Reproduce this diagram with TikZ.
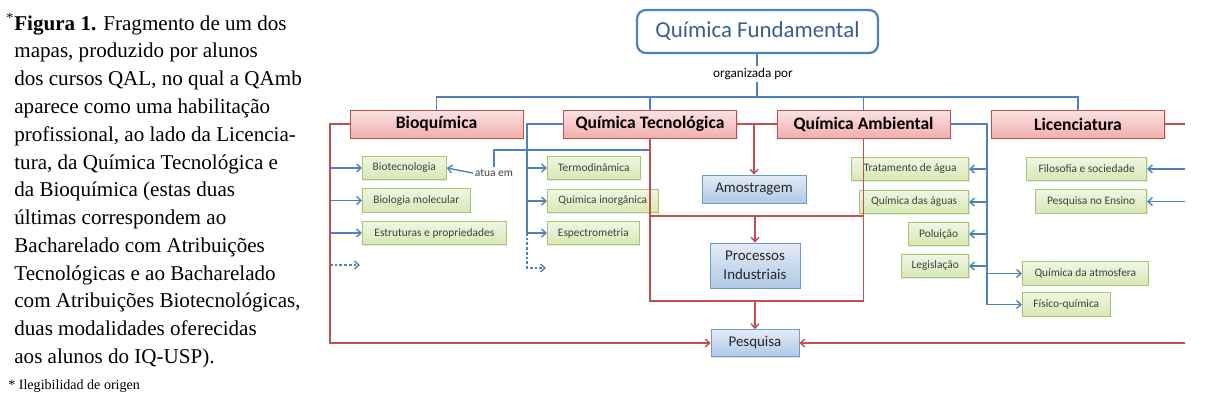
\documentclass[tikz,border=0pt]{standalone}
\usepackage{fontspec}
\setmainfont{Liberation Serif}
\newfontfamily\mapfont{Carlito}
\usetikzlibrary{arrows.meta,shadows}
\definecolor{lineblue}{HTML}{4F81BD}
\definecolor{linered}{HTML}{C0504D}
\definecolor{titleblue}{HTML}{376092}
\definecolor{redtop}{HTML}{FBE3E3}
\definecolor{redbot}{HTML}{F2AEAD}
\definecolor{greentop}{HTML}{F0F6E4}
\definecolor{greenbot}{HTML}{D7E8B4}
\definecolor{greenedge}{HTML}{A9C66A}
\definecolor{bluetop}{HTML}{E3ECF7}
\definecolor{bluebot}{HTML}{AFC8E6}
\begin{document}
\begin{tikzpicture}[x=0.02cm,y=-0.02cm,
    redbox/.style={draw=linered, top color=redtop, bottom color=redbot,
      minimum width=3.46cm, minimum height=0.56cm, inner sep=0pt,
      drop shadow={shadow xshift=0.8pt,shadow yshift=-0.8pt,opacity=0.25},
      font=\mapfont\bfseries\fontsize{10}{12}\selectfont},
    bluebox/.style={draw=lineblue!80, top color=bluetop, bottom color=bluebot,
      inner sep=0pt, align=center, text=black!85,
      drop shadow={shadow xshift=0.8pt,shadow yshift=-0.8pt,opacity=0.25},
      font=\mapfont\fontsize{8.5}{11}\selectfont},
    greenbox/.style={draw=greenedge, top color=greentop, bottom color=greenbot,
      minimum height=0.47cm, inner sep=0pt, text=black!75,
      drop shadow={shadow xshift=0.6pt,shadow yshift=-0.6pt,opacity=0.2},
      font=\mapfont\fontsize{6.5}{8}\selectfont},
    blueline/.style={draw=lineblue, line width=0.8pt},
    redline/.style={draw=linered, line width=0.8pt},
    tip/.style={-{Straight Barb[length=2.5pt,width=4.5pt]}},
    dots/.style={dash pattern=on 1.5pt off 1.2pt}]
    \useasboundingbox (0,0) rectangle (1206,406);
    \node[anchor=north west, align=left, inner sep=0pt,
        font=\fontsize{12}{15.8}\selectfont] (caption) at (14,13)
        {\llap{\textsuperscript{*}}\textbf{Figura 1.} Fragmento de um dos\\
         mapas, produzido por alunos\\
         dos cursos QAL, no qual a QAmb\\
         aparece como uma habilitação\\
         profissional, ao lado da Licencia-\\
         tura, da Química Tecnológica e\\
         da Bioquímica (estas duas\\
         últimas correspondem ao\\
         Bacharelado com Atribuições\\
         Tecnológicas e ao Bacharelado\\
         com Atribuições Biotecnológicas,\\
         duas modalidades oferecidas\\
         aos alunos do IQ-USP).};
    \node[anchor=base west, inner sep=0pt, font=\fontsize{8}{9}\selectfont]
        (footnote) at (8,389) {* Ilegibilidad de origen};

    \node[draw=lineblue, line width=1.3pt, rounded corners=5pt, fill=white,
        minimum width=4.82cm, minimum height=0.86cm, text=titleblue,
        font=\mapfont\fontsize{13}{15}\selectfont] (qf) at (757.5,31.5) {Química Fundamental};
    \node[inner sep=1pt, font=\mapfont\fontsize{7.5}{9}\selectfont] (org) at (753,74) {organizada por};
    \coordinate (bar) at (757,97);

    \node[redbox] (bio) at (436.5,124) {Bioquímica};
    \node[redbox] (qt) at (650,124) {Química Tecnológica};
    \node[redbox] (qa) at (863.5,124) {Química Ambiental};
    \node[redbox] (lic) at (1078,124) {Licenciatura};

    \node[bluebox, minimum width=2.08cm, minimum height=0.56cm] (amo) at (754,189) {Amostragem};
    \node[bluebox, minimum width=1.8cm, minimum height=0.9cm] (proc) at (755,265.5) {Processos\\Industriais};
    \node[bluebox, minimum width=1.76cm, minimum height=0.54cm] (pesq) at (755,343) {Pesquisa};

    \node[greenbox, anchor=west, minimum width=1.68cm] (biotec) at (362,168) {Biotecnologia};
    \node[greenbox, anchor=west, minimum width=2.16cm] (biomol) at (362,200.5) {Biologia molecular};
    \node[greenbox, anchor=west, minimum width=2.88cm] (estr) at (362,233) {Estruturas e propriedades};
    \node[greenbox, anchor=west, minimum width=1.86cm] (termo) at (547,168) {Termodinâmica};
    \node[greenbox, anchor=west, minimum width=2.22cm] (inorg) at (547,201) {Química inorgânica};
    \node[greenbox, anchor=west, minimum width=1.84cm] (espec) at (547,233) {Espectrometria};
    \node[greenbox, anchor=east, minimum width=2.34cm] (trat) at (969,169) {Tratamento de água};
    \node[greenbox, anchor=east, minimum width=2.18cm] (aguas) at (969,202) {Química das águas};
    \node[greenbox, anchor=east, minimum width=1.2cm] (polu) at (969,234) {Poluição};
    \node[greenbox, anchor=east, minimum width=1.34cm] (legis) at (969,266) {Legislação};
    \node[greenbox, anchor=west, minimum width=2.52cm] (atmos) at (1022,273.5) {Química da atmosfera};
    \node[greenbox, anchor=west, minimum width=1.76cm] (fisico) at (1022,304.5) {Físico-química};
    \node[greenbox, anchor=east, minimum width=2.4cm] (filo) at (1147,169) {Filosofia e sociedade};
    \node[greenbox, anchor=east, minimum width=2.22cm] (ensino) at (1147,201.5) {Pesquisa no Ensino};
    \node[inner sep=1pt, font=\mapfont\fontsize{6.5}{8}\selectfont, text=black!75] (atua) at (494,173) {atua em};

    \draw[blueline] (qf.south -| bar) -- (org.north -| bar);
    \draw[blueline] (org.south -| bar) -- (bar);
    \draw[blueline] (bio.north) |- (lic.north |- bar) -- (lic.north);
    \draw[blueline] (qt.north) -- (qt.north |- bar);
    \draw[blueline] (qa.north) -- (qa.north |- bar);

    \coordinate (bspine) at (330,124);
    \coordinate (bdash) at (360,265);
    \foreach \n in {biotec,biomol,estr}
        \draw[blueline,tip] (bspine |- \n.west) -- (\n.west);
    \draw[blueline,dots,tip] (bspine |- bdash) -- (bdash);

    \coordinate (tspine) at (527,124);
    \coordinate (tdash) at (546,268);
    \draw[blueline] (qt.west) -- (tspine) -- (tspine |- espec.west);
    \draw[blueline,dots,tip] (tspine |- espec.west) |- (tdash);
    \foreach \n in {termo,inorg,espec}
        \draw[blueline,tip] (tspine |- \n.west) -- (\n.west);
    \draw[blueline] (qt.south |- 0,150) -| (atua.north);
    \draw[blueline,tip] (atua.west) -- (biotec.east);

    \coordinate (aspine) at (987,124);
    \draw[blueline,tip] (qa.east) -- (aspine) |- (fisico.west);
    \foreach \n in {trat,aguas,polu,legis}
        \draw[blueline,tip] (aspine |- \n.east) -- (\n.east);
    \draw[blueline,tip] (aspine |- atmos.west) -- (atmos.west);

    \coordinate (outtop) at (1185,124);
    \coordinate (outbot) at (1185,343);
    \foreach \n in {filo,ensino}
        \draw[blueline,tip] (outtop |- \n.east) -- (\n.east);

    \coordinate (rmid) at (755,216);
    \coordinate (rlow) at (755,301);
    \draw[redline] (qt.east) -- (qa.west);
    \draw[redline,tip] (amo.north |- qt.east) -- (amo.north);
    \draw[redline] (qt.south) |- (qa.south |- rlow) -- (qa.south);
    \draw[redline] (qt.south |- rmid) -- (qa.south |- rmid);
    \draw[redline,tip] (rmid -| proc.north) -- (proc.north);
    \draw[redline,tip] (rlow -| pesq.north) -- (pesq.north);
    \draw[redline,tip] (bio.west) -- (bspine) |- (pesq.west);
    \draw[redline] (lic.east) -- (outtop);
    \draw[redline,tip] (outbot) -- (pesq.east);
\end{tikzpicture}
\end{document}
